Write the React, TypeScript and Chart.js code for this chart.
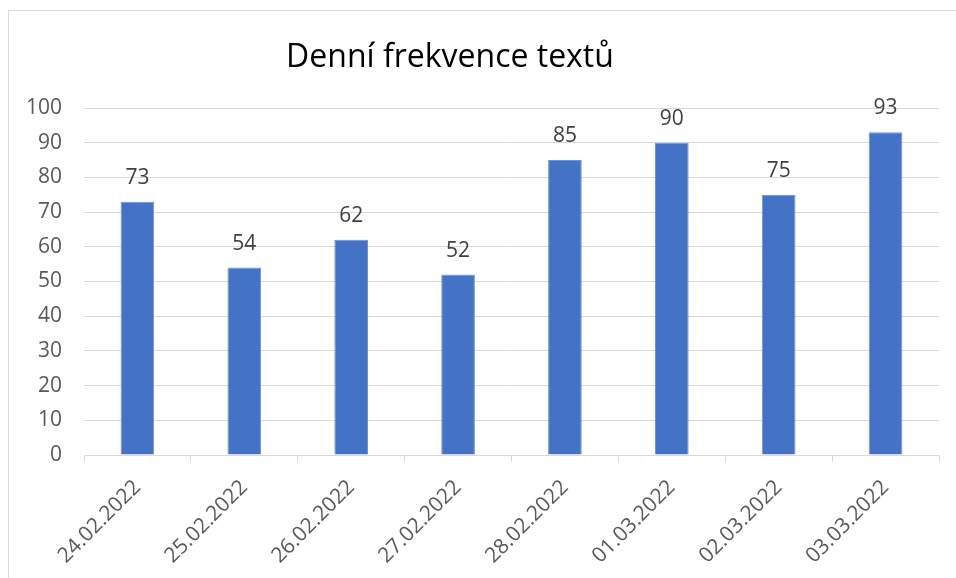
import React, { useEffect, useRef } from "react";
import { Chart, registerables } from "chart.js";

Chart.register(...registerables);

const TITLE = "Denní frekvence textů";
const categories = [
  "24.02.2022",
  "25.02.2022",
  "26.02.2022",
  "27.02.2022",
  "28.02.2022",
  "01.03.2022",
  "02.03.2022",
  "03.03.2022",
];
const values = [73, 54, 62, 52, 85, 90, 75, 93];
const yMin = 0;
const yMax = 100;
const yStep = 10;

const FONT = "'Open Sans', 'Noto Sans', sans-serif";

const titlePlugin = {
  id: "excelTitle",
  afterDraw(chart: any) {
    const ctx = chart.ctx;
    ctx.save();
    ctx.font = `32px ${FONT}`;
    ctx.fillStyle = "#000000";
    ctx.textAlign = "center";
    ctx.textBaseline = "alphabetic";
    ctx.fillText(TITLE, 450, 67);
    ctx.restore();
  },
};

const valueLabels = {
  id: "valueLabels",
  afterDatasetsDraw(chart: any) {
    const ctx = chart.ctx;
    const meta = chart.getDatasetMeta(0);
    ctx.save();
    ctx.font = `21px ${FONT}`;
    ctx.fillStyle = "#404040";
    ctx.textAlign = "center";
    ctx.textBaseline = "alphabetic";
    meta.data.forEach((bar: any, i: number) => {
      ctx.fillText(String(values[i]), bar.x, bar.y - 18);
    });
    ctx.restore();
  },
};

export default function App() {
  const ref = useRef<HTMLCanvasElement | null>(null);
  useEffect(() => {
    if (!ref.current) return;
    const chart = new Chart(ref.current, {
      type: "bar",
      data: {
        labels: categories,
        datasets: [
          {
            data: values,
            backgroundColor: "#4472C4",
            borderColor: "#6f93d4",
            borderWidth: 1,
            categoryPercentage: 1,
            barPercentage: 0.315,
          },
        ],
      },
      options: {
        responsive: false,
        animation: false,
        maintainAspectRatio: false,
        layout: { padding: { top: 108, right: 17, left: 0, bottom: 0 } },
        plugins: {
          legend: { display: false },
          title: { display: false },
          tooltip: { enabled: false },
        },
        scales: {
          x: {
            offset: true,
            grid: {
              offset: true,
              drawOnChartArea: false,
              drawTicks: true,
              tickLength: 7,
              color: "#d9d9d9",
            },
            border: { display: true, color: "#d9d9d9", width: 1 },
            ticks: {
              maxRotation: 45,
              minRotation: 45,
              autoSkip: false,
              padding: 13,
              color: "#595959",
              font: { family: FONT, size: 21 },
            },
            afterFit(scale: any) {
              scale.height = 123;
            },
          },
          y: {
            min: yMin,
            max: yMax,
            ticks: {
              stepSize: yStep,
              padding: 22,
              color: "#595959",
              font: { family: FONT, size: 21 },
            },
            grid: { color: "#d9d9d9", drawTicks: false, lineWidth: 1 },
            border: { display: false },
            afterFit(scale: any) {
              scale.width = 84;
            },
          },
        },
      },
      plugins: [titlePlugin, valueLabels],
    });
    return () => chart.destroy();
  }, []);

  return (
    <div
      style={{
        position: "fixed",
        left: 0,
        top: 0,
        width: 956,
        height: 578,
        overflow: "hidden",
        background: "#ffffff",
      }}
    >
      <div
        style={{
          position: "absolute",
          left: 8,
          top: 10,
          width: 1200,
          height: 1200,
          border: "1px solid #d9d9d9",
          boxSizing: "border-box",
        }}
      />
      <canvas
        ref={ref}
        width={956}
        height={578}
        style={{ position: "absolute", left: 0, top: 0, width: 956, height: 578 }}
      />
    </div>
  );
}
